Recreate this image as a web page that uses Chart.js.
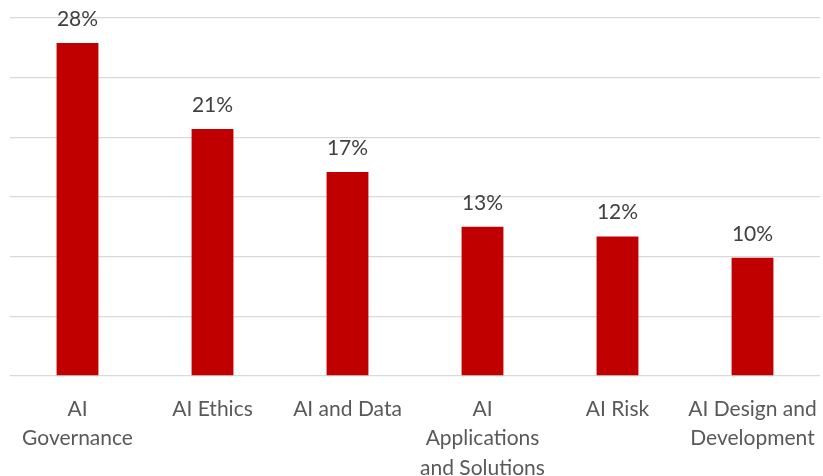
<!DOCTYPE html>
<html>
<head>
<meta charset="utf-8">
<script src="https://cdn.jsdelivr.net/npm/chart.js@4"></script>
<style>
  html, body { margin: 0; padding: 0; background: #fff; }
  #wrap { width: 823px; height: 476px; }
</style>
</head>
<body>
<div id="wrap"><canvas id="myChart"></canvas></div>
<script>
const categories = [
  ["AI", "Governance"],
  "AI Ethics",
  "AI and Data",
  ["AI", "Applications", "and Solutions"],
  "AI Risk",
  ["AI Design and", "Development"],
];
const shares = [27.9, 20.7, 17.1, 12.5, 11.7, 9.9];
const shareLabels = ["28%", "21%", "17%", "13%", "12%", "10%"];

const ctx = document.getElementById("myChart");
const fontFamily = "Lato, 'Open Sans', sans-serif";

// draw the % above each bar
const barLabels = {
  id: "barLabels",
  afterDatasetsDraw(chart) {
    const c = chart.ctx;
    const meta = chart.getDatasetMeta(0);
    c.save();
    c.font = "21px " + fontFamily;
    c.fillStyle = "#404040";
    c.textAlign = "center";
    c.textBaseline = "alphabetic";
    meta.data.forEach((bar, i) => {
      c.fillText(shareLabels[i], bar.x, bar.y - 17);
    });
    c.restore();
  },
};

new Chart(ctx, {
  type: "bar",
  data: {
    labels: categories,
    datasets: [
      {
        data: shares,
        backgroundColor: "#C00000",
        barPercentage: 0.31,
        categoryPercentage: 1,
      },
    ],
  },
  options: {
    responsive: true,
    maintainAspectRatio: false,
    animation: false,
    layout: { padding: { top: 18, left: 10, right: 3, bottom: 0 } },
    plugins: {
      legend: { display: false },
      tooltip: { enabled: false },
    },
    scales: {
      y: {
        min: 0,
        max: 30,
        ticks: { display: false, stepSize: 5 },
        border: { display: false },
        grid: { color: "#D9D9D9", lineWidth: 1.3, drawTicks: false },
      },
      x: {
        grid: { display: false, drawTicks: false },
        border: { display: false },
        ticks: {
          color: "#595959",
          font: { family: fontFamily, size: 21, lineHeight: 1.42 },
          padding: 18,
          maxRotation: 0,
          autoSkip: false,
        },
        afterFit(axis) {
          axis.height = 100;
          axis.paddingLeft = 0;
          axis.paddingRight = 0;
        },
      },
    },
  },
  plugins: [barLabels],
});
</script>
</body>
</html>
